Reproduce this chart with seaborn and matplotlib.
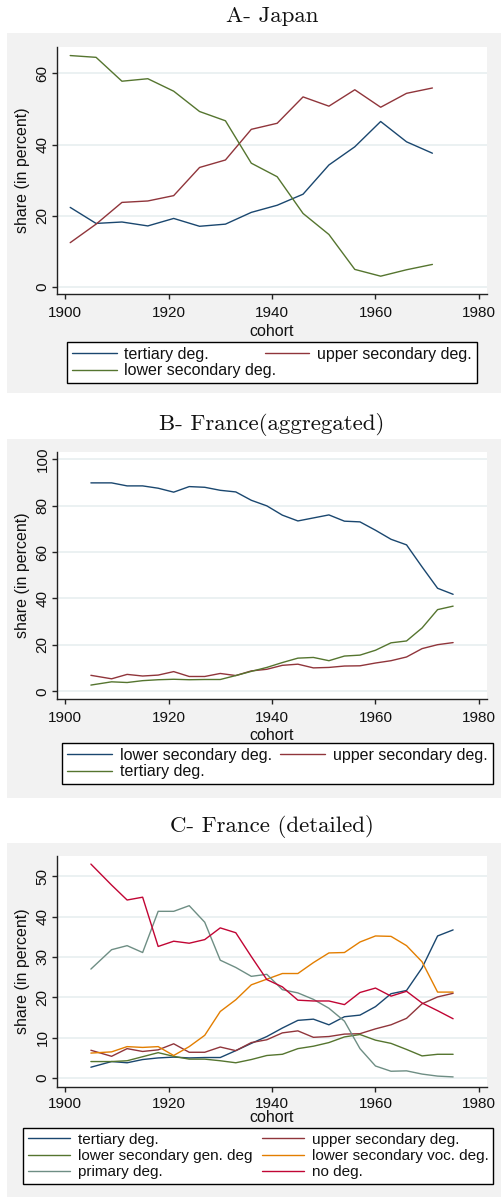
import numpy as np
import pandas as pd
import matplotlib; matplotlib.use("Agg")
import matplotlib.pyplot as plt
from matplotlib.patches import Rectangle
import seaborn as sns

# ── data ──────────────────────────────────────────────────────────────
JP_COHORT = [1901, 1906, 1911, 1916, 1921, 1926, 1931, 1936, 1941, 1946,
             1951, 1956, 1961, 1966, 1971]
JP_TERTIARY = [22.4, 17.9, 18.3, 17.2, 19.3, 17.1, 17.7, 21.0, 23.0, 26.1,
               34.3, 39.4, 46.5, 40.8, 37.6]
JP_UPPER_SEC = [12.5, 17.7, 23.8, 24.2, 25.7, 33.6, 35.7, 44.3, 46.0, 53.4,
                50.8, 55.4, 50.5, 54.4, 55.9]
JP_LOWER_SEC = [65.0, 64.5, 57.8, 58.5, 55.0, 49.3, 46.7, 34.8, 31.0, 20.7,
                14.8, 5.0, 3.1, 4.9, 6.4]

FR_COHORT = [1905, 1909, 1912, 1915, 1918, 1921, 1924, 1927, 1930, 1933,
             1936, 1939, 1942, 1945, 1948, 1951, 1954, 1957, 1960, 1963,
             1966, 1969, 1972, 1975]
FR_LOWER_SEC = [89.8, 89.8, 88.5, 88.5, 87.5, 85.8, 88.2, 87.9, 86.6, 85.9,
                82.3, 79.9, 75.9, 73.4, 74.7, 76.0, 73.3, 73.0, 69.4, 65.5,
                63.1, 53.6, 44.4, 41.8]
FR_UPPER_SEC = [6.9, 5.4, 7.3, 6.6, 7.0, 8.5, 6.4, 6.4, 7.7, 6.8,
                8.8, 9.5, 11.2, 11.7, 10.1, 10.3, 10.9, 11.0, 12.2, 13.2,
                14.8, 18.4, 20.1, 21.0]
FR_TERTIARY = [2.7, 4.1, 3.8, 4.6, 5.0, 5.2, 5.0, 5.1, 5.1, 6.8,
               8.6, 10.3, 12.4, 14.3, 14.6, 13.2, 15.2, 15.6, 17.7, 20.9,
               21.7, 27.3, 35.2, 36.7]
FR_LOWER_GEN = [4.1, 4.1, 4.3, 5.3, 6.3, 5.4, 4.7, 4.7, 4.3, 3.8,
                4.6, 5.6, 5.9, 7.3, 7.9, 8.8, 10.2, 10.8, 9.4, 8.6,
                7.1, 5.5, 5.9, 5.9]
FR_LOWER_VOC = [6.2, 6.5, 7.8, 7.6, 7.8, 5.6, 7.8, 10.6, 16.5, 19.4,
                23.1, 24.5, 25.9, 25.9, 28.6, 31.0, 31.1, 33.7, 35.2, 35.1,
                32.8, 28.8, 21.3, 21.3]
FR_PRIMARY = [27.0, 31.8, 32.8, 31.1, 41.3, 41.3, 42.7, 38.6, 29.2, 27.4,
              25.2, 25.7, 21.9, 21.1, 19.5, 17.3, 14.1, 7.3, 3.0, 1.7,
              1.8, 1.0, 0.5, 0.3]
FR_NO_DEG = [53.0, 47.8, 44.1, 44.8, 32.6, 33.9, 33.4, 34.3, 37.2, 36.0,
             30.1, 24.4, 22.6, 19.3, 19.1, 19.1, 18.2, 21.2, 22.3, 20.3,
             21.5, 18.6, 16.7, 14.7]

# Stata s2color palette
NAVY, MAROON, FOREST = "#1a476f", "#90353b", "#55752f"
DKORANGE, TEAL, CRANBERRY = "#e37e00", "#6e8e84", "#c10534"

W, H = 501, 1197
GRAY = "#f2f2f2"
GRID = "#e8eff0"

sns.set_theme(style="white")
plt.rcParams["font.family"] = ["Liberation Sans", "DejaVu Sans"]


def fbox(x0, y0, x1, y1):
    return [x0 / W, 1 - y1 / H, (x1 - x0) / W, (y1 - y0) / H]


def panel(fig, title, series, gray, axbox, title_y, leg_xy, colsp,
          ylim, yticks, leg_fs=11.5, leg_ls=0.1, xpad=5, xlab_off=29.5):
    x0, y0, x1, y1 = gray
    fig.patches.append(Rectangle((x0 / W, 1 - y1 / H), (x1 - x0) / W,
                                 (y1 - y0) / H, transform=fig.transFigure,
                                 facecolor=GRAY, edgecolor="none",
                                 zorder=-10))
    ax = fig.add_axes(fbox(*axbox))
    ax.set_facecolor("white")

    frames = [pd.DataFrame({"cohort": xs, "share": ys, "series": name})
              for name, xs, ys, _ in series]
    df = pd.concat(frames, ignore_index=True)
    names = [s[0] for s in series]
    pal = {s[0]: s[3] for s in series}
    sns.lineplot(data=df, x="cohort", y="share", hue="series",
                 hue_order=names, palette=pal, lw=1.0, legend=False,
                 estimator=None, ax=ax)

    ax.set_xlim(1898.45, 1981.55)
    ax.set_ylim(*ylim)
    ax.set_xticks(range(1900, 1981, 20))
    ax.set_yticks(yticks)
    ax.grid(axis="y", color=GRID, lw=1.2)
    ax.grid(axis="x", visible=False)
    sns.despine(ax=ax)
    for s in ("left", "bottom"):
        ax.spines[s].set_color("#222222")
        ax.spines[s].set_linewidth(1.0)
    ax.tick_params(direction="out", length=3.8, width=1.0, color="#222222",
                   labelsize=11, labelcolor="#111111", left=True, bottom=True)
    ax.tick_params(axis="x", pad=xpad)
    ax.tick_params(axis="y", pad=1.5)
    for lab in ax.get_yticklabels():
        lab.set_rotation(90)
        lab.set_va("center")

    ax.set_xlabel("cohort", fontsize=11.5, color="#111111")
    ax.set_ylabel("share (in percent)", fontsize=11.5, color="#111111")
    axh = axbox[3] - axbox[1]
    axw = axbox[2] - axbox[0]
    ax.xaxis.set_label_coords(0.5, -xlab_off / axh)
    ax.yaxis.set_label_coords(-(axbox[0] - 30) / axw, 0.5)

    fig.text((axbox[0] + axbox[2]) / 2 / W, 1 - title_y / H, title,
             ha="center", va="center", fontsize=16.5,
             family=["cmr10", "DejaVu Serif"], color="#111111")

    # Stata fills legend rows first; matplotlib fills columns first
    lines = ax.get_lines()[:len(series)]
    order = list(range(0, len(series), 2)) + list(range(1, len(series), 2))
    leg = ax.legend([lines[i] for i in order], [names[i] for i in order],
                    loc="upper left", ncol=2,
                    bbox_to_anchor=(leg_xy[0] / W, 1 - leg_xy[1] / H),
                    bbox_transform=fig.transFigure, borderaxespad=0,
                    frameon=True, fancybox=False, framealpha=1,
                    edgecolor="black", facecolor="white", fontsize=leg_fs,
                    handlelength=2.8, handletextpad=0.5, columnspacing=colsp,
                    labelspacing=leg_ls, borderpad=0.3)
    leg.get_frame().set_linewidth(1.0)
    for t in leg.get_texts():
        t.set_color("#111111")
    return ax


fig = plt.figure(figsize=(W / 100, H / 100), dpi=100, facecolor="white")

panel(fig, "A- Japan",
      [("tertiary deg.", JP_COHORT, JP_TERTIARY, NAVY),
       ("upper secondary deg.", JP_COHORT, JP_UPPER_SEC, MAROON),
       ("lower secondary deg.", JP_COHORT, JP_LOWER_SEC, FOREST)],
      gray=(7, 33, 501, 393), axbox=(57, 47, 487, 294), title_y=16,
      leg_xy=(67, 342), colsp=-0.75, ylim=(-1.9, 67.4),
      yticks=[0, 20, 40, 60])

panel(fig, "B- France(aggregated)",
      [("lower secondary deg.", FR_COHORT, FR_LOWER_SEC, NAVY),
       ("upper secondary deg.", FR_COHORT, FR_UPPER_SEC, MAROON),
       ("tertiary deg.", FR_COHORT, FR_TERTIARY, FOREST)],
      gray=(7, 439, 501, 798), axbox=(57, 452, 487, 699), title_y=425,
      leg_xy=(62, 743), colsp=0.55, ylim=(-3.3, 103.1),
      yticks=[0, 20, 40, 60, 80, 100])

panel(fig, "C- France (detailed)",
      [("tertiary deg.", FR_COHORT, FR_TERTIARY, NAVY),
       ("upper secondary deg.", FR_COHORT, FR_UPPER_SEC, MAROON),
       ("lower secondary gen. deg", FR_COHORT, FR_LOWER_GEN, FOREST),
       ("lower secondary voc. deg.", FR_COHORT, FR_LOWER_VOC, DKORANGE),
       ("primary deg.", FR_COHORT, FR_PRIMARY, TEAL),
       ("no deg.", FR_COHORT, FR_NO_DEG, CRANBERRY)],
      gray=(7, 843, 501, 1197), axbox=(57, 856, 487, 1087), title_y=827,
      leg_xy=(23, 1128), colsp=0.6, ylim=(-2.2, 55.0),
      yticks=[0, 10, 20, 30, 40, 50], leg_fs=11, leg_ls=0.16,
      xpad=3.5, xlab_off=23.5)

fig.savefig("out.png", dpi=100)
